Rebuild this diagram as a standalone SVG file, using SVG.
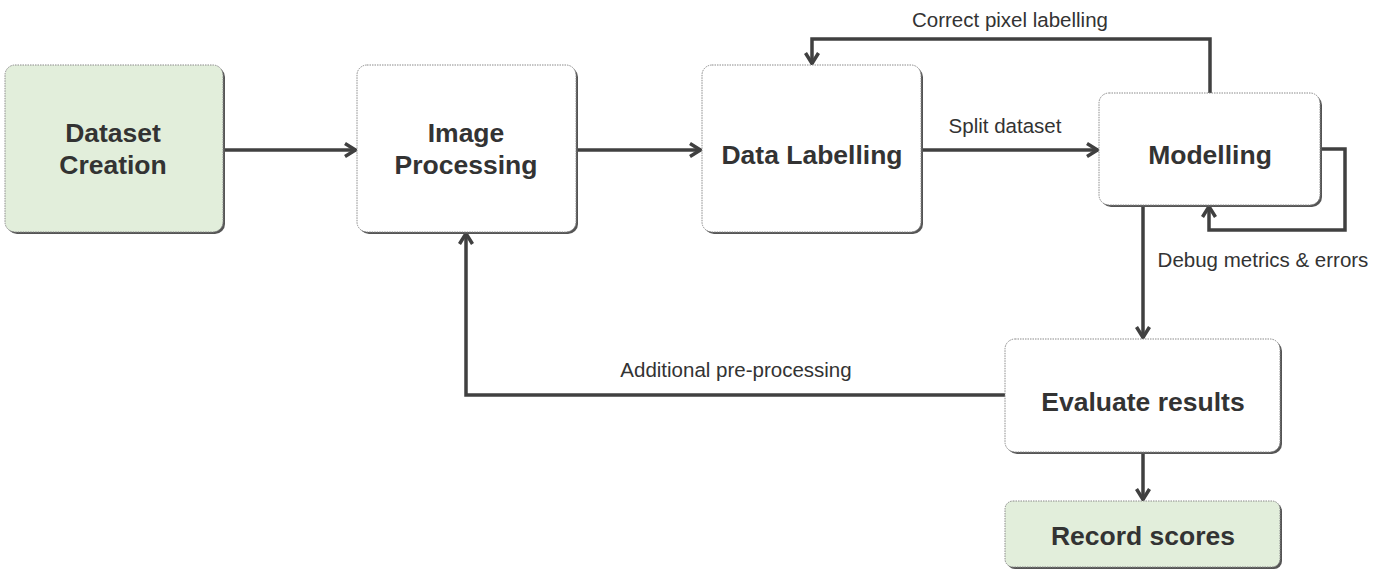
<svg xmlns="http://www.w3.org/2000/svg" width="1400" height="575" viewBox="0 0 1400 575">
<style>
.box{stroke:#8a8a8a;stroke-width:1;stroke-dasharray:1.5,1}
.sh{fill:#555}
.w{fill:#ffffff}
.g{fill:#e2eedb}
.t{font-family:"Liberation Sans",Arial,sans-serif;font-weight:bold;font-size:26.5px;fill:#333;text-anchor:middle}
.l{font-family:"Liberation Sans",Arial,sans-serif;font-size:20.5px;fill:#333;text-anchor:middle}
.c{fill:none;stroke:#404040;stroke-width:3.5}
</style>
<defs>
<marker id="ah" viewBox="0 0 16 16" refX="14" refY="8" markerWidth="16" markerHeight="16" markerUnits="userSpaceOnUse" orient="auto">
<path d="M3,1.5 L13.5,8 L3,14.5" fill="none" stroke="#404040" stroke-width="3.5"/>
</marker>
</defs>
<rect width="1400" height="575" fill="#ffffff"/>
<g id="connectors">
<path class="c" d="M223,150 H356" marker-end="url(#ah)"/>
<path class="c" d="M576,150 H701" marker-end="url(#ah)"/>
<path class="c" d="M921,150 H1098" marker-end="url(#ah)"/>
<path class="c" d="M1210,93 V39 H812 V64" marker-end="url(#ah)"/>
<path class="c" d="M1320,149 H1345 V230 H1209 V206" marker-end="url(#ah)"/>
<path class="c" d="M1143,205 V338" marker-end="url(#ah)"/>
<path class="c" d="M1005,395 H466 V233" marker-end="url(#ah)"/>
<path class="c" d="M1143,453 V500" marker-end="url(#ah)"/>
<text class="l" x="1005" y="133">Split dataset</text>
<text class="l" x="1010" y="27">Correct pixel labelling</text>
<text class="l" x="1263" y="267">Debug metrics &amp; errors</text>
<text class="l" x="736" y="377">Additional pre-processing</text>
</g>
<g id="dataset-creation">
<rect class="sh" x="7" y="67" width="218" height="167" rx="10"/>
<rect class="box g" x="5" y="65" width="218" height="167" rx="10"/>
<text class="t" x="113" y="142">Dataset</text>
<text class="t" x="113" y="174">Creation</text>
</g>
<g id="image-processing">
<rect class="sh" x="359" y="67" width="219" height="167" rx="10"/>
<rect class="box w" x="357" y="65" width="219" height="167" rx="10"/>
<text class="t" x="466" y="142">Image</text>
<text class="t" x="466" y="174">Processing</text>
</g>
<g id="data-labelling">
<rect class="sh" x="704" y="67" width="219" height="167" rx="10"/>
<rect class="box w" x="702" y="65" width="219" height="167" rx="10"/>
<text class="t" x="812" y="164">Data Labelling</text>
</g>
<g id="modelling">
<rect class="sh" x="1101" y="95" width="221" height="112" rx="10"/>
<rect class="box w" x="1099" y="93" width="221" height="112" rx="10"/>
<text class="t" x="1210" y="164">Modelling</text>
</g>
<g id="evaluate-results">
<rect class="sh" x="1007" y="341" width="275" height="113" rx="10"/>
<rect class="box w" x="1005" y="339" width="275" height="113" rx="10"/>
<text class="t" x="1143" y="411">Evaluate results</text>
</g>
<g id="record-scores">
<rect class="sh" x="1007" y="503" width="275" height="66" rx="8"/>
<rect class="box g" x="1005" y="501" width="275" height="66" rx="8"/>
<text class="t" x="1143" y="545">Record scores</text>
</g>
</svg>
